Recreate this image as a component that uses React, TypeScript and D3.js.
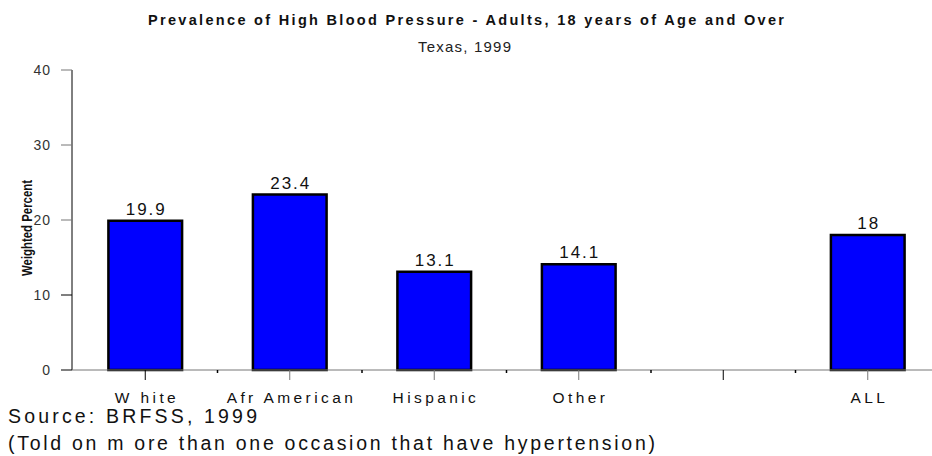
import React from 'react';
import * as d3 from 'd3';

const categories = ['White', 'Afr American', 'Hispanic', 'Other', '', 'ALL'];
const categoryText = ['W hite', 'Afr American', 'Hispanic', 'Other', '', 'ALL'];
const values: (number | null)[] = [19.9, 23.4, 13.1, 14.1, null, 18];
const valueLabels = ['19.9', '23.4', '13.1', '14.1', '', '18'];
const yTicks = [0, 10, 20, 30, 40];

const font = '"Liberation Sans", Arial, sans-serif';

export default function App() {
  const width = 932;
  const height = 456;

  const x = d3.scaleBand<string>()
    .domain(categories.map((_, i) => String(i)))
    .range([73, 940])
    .paddingInner(0.49)
    .paddingOuter(0.245);

  const y = d3.scaleLinear().domain([0, 40]).range([370, 70]);
  const bw = x.bandwidth();
  const step = x.step();

  return (
    <div style={{ position: 'absolute', left: 0, top: 0 }}>
      <svg width={width} height={height} style={{ display: 'block', background: '#fff' }}>
        {/* titles */}
        <text x={148} y={25} fontFamily={font} fontWeight="bold"
          fontSize={14.5} textLength={636} lengthAdjust="spacing" fill="#111">
          Prevalence of High Blood Pressure - Adults, 18 years of Age and Over
        </text>
        <text x={418} y={52} fontFamily={font} fontSize={15}
          textLength={93} lengthAdjust="spacing" fill="#222">
          Texas, 1999
        </text>

        {/* y axis */}
        <line x1={72} x2={72} y1={y(40)} y2={y(0)} stroke="#000" strokeWidth={1} />
        {yTicks.map(t => (
          <g key={t}>
            <line x1={61} x2={72} y1={y(t)} y2={y(t)} stroke={t === 10 || t === 0 ? '#000' : '#777'} strokeWidth={1} />
            <text x={51} y={y(t) + 5} textAnchor="end" fontFamily={font} fontSize={14}
              letterSpacing={1} fill="#333">{t}</text>
          </g>
        ))}
        <text transform={`translate(32, 228) rotate(-90)`} textAnchor="middle" fontFamily={font}
          fontWeight="bold" fontSize={14} textLength={96} lengthAdjust="spacingAndGlyphs" fill="#111">
          Weighted Percent
        </text>

        {/* bars */}
        {values.map((v, i) => v == null ? null : (
          <g key={i}>
            <rect x={x(String(i))!} y={y(v)} width={bw} height={y(0) - y(v)}
              fill="#0000ff" stroke="#000" strokeWidth={2.5} />
            <text x={x(String(i))! + bw / 2 + 1} y={y(v) - 6} textAnchor="middle" fontFamily={font}
              fontSize={17} letterSpacing={2} fill="#111">{valueLabels[i]}</text>
          </g>
        ))}

        {/* x axis */}
        <line x1={72} x2={932} y1={370} y2={370} stroke="#777" strokeWidth={1} />
        {categories.map((c, i) => {
          const cx = x(String(i))! + bw / 2;
          return (
            <g key={i}>
              <line x1={cx} x2={cx} y1={370} y2={380} stroke={i === 0 || i === 4 ? '#000' : '#777'} strokeWidth={1} />
              {i > 0 && (
                <line x1={cx - step / 2} x2={cx - step / 2} y1={370} y2={373} stroke="#000" strokeWidth={1.5} />
              )}
              <text x={cx + 1.7} y={403} textAnchor="middle" fontFamily={font} fontSize={15.5}
                letterSpacing={3.4} fill="#111">{categoryText[i]}</text>
            </g>
          );
        })}

        {/* notes */}
        <text x={8} y={423} fontFamily={font} fontSize={19.5} textLength={249} lengthAdjust="spacing" fill="#111">
          Source: BRFSS, 1999
        </text>
        <text x={8} y={450} fontFamily={font} fontSize={19.5} textLength={647} lengthAdjust="spacing" fill="#111">
          (Told on m ore than one occasion that have hypertension)
        </text>
      </svg>
    </div>
  );
}
